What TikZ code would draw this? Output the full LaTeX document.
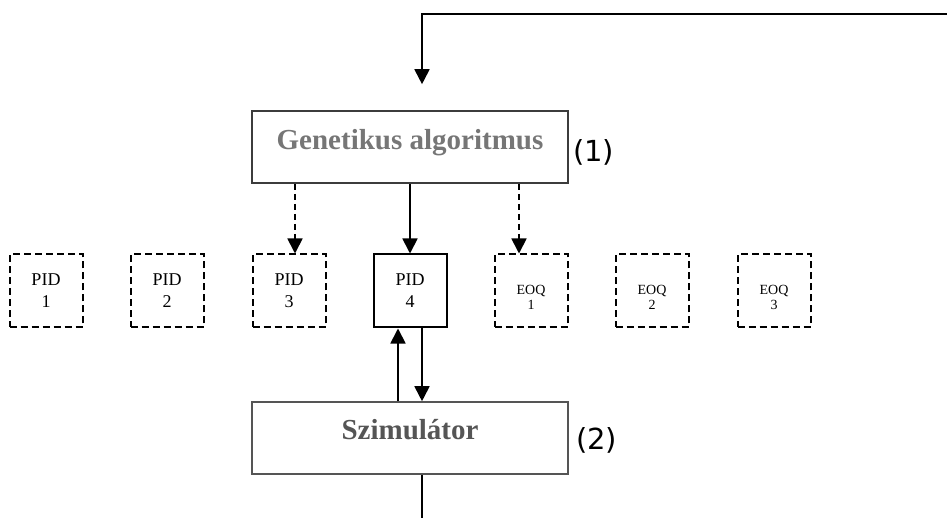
\documentclass[tikz,border=0pt]{standalone}
\usepackage{fontspec}
\setmainfont{Liberation Serif}
\newfontfamily\tagfont{DejaVu Sans}
\usetikzlibrary{arrows.meta, positioning}
\definecolor{boxGray}{RGB}{60,60,60}
\definecolor{titleGray}{RGB}{118,118,118}
\definecolor{simGray}{RGB}{85,85,85}

\begin{document}
\begin{tikzpicture}[x=1pt, y=-1pt,
  flow/.style={line width=1.8pt, -{Triangle[length=15pt, width=15pt]}},
  block/.style={draw=boxGray, line width=1.6pt, minimum width=316pt, minimum height=72pt,
    font=\fontsize{29}{34}\bfseries\selectfont},
  ctrl/.style={draw, line width=2pt, minimum width=73pt, minimum height=73pt,
    align=center, inner sep=0pt},
  idle/.style={ctrl, dash pattern=on 7pt off 4pt},
  pidtxt/.style={font=\fontsize{18}{22}\selectfont},
  eoqtxt/.style={font=\fontsize{14}{15}\selectfont},
  tag/.style={font=\tagfont\fontsize{29}{34}\selectfont, inner sep=0pt}]
  \useasboundingbox (0,0) rectangle (947,518);

  % optimiser and simulator
  \node[block, text=titleGray, text height=19pt, text depth=13pt] (gen) at (410,147) {Genetikus algoritmus};
  \node[block, draw=simGray, text=simGray, text height=19pt, text depth=17pt] (sim) at (410,438) {Szimulátor};
  \node[tag, right=4pt of gen, yshift=-5pt] (tag1) {(1)};
  \node[tag, right=7pt of sim, yshift=-2pt] (tag2) {(2)};

  % controllers, only PID 4 is active
  \foreach \i/\x in {1/46, 2/167, 3/289}
    \node[idle, pidtxt] (pid\i) at (\x,291) {PID\\\i};
  \node[ctrl, pidtxt] (pid4) at (410,291) {PID\\4};
  \foreach \i/\x in {1/531, 2/652, 3/774}
    \node[idle, eoqtxt] (eoq\i) at (\x,291) {\rule{0pt}{22pt}EOQ\\\i};

  % feedback loop
  \coordinate (fbin) at (947,14);
  \coordinate (fbout) at (422,518);
  \draw[flow] (fbin) -| ([xshift=12pt, yshift=26pt]gen.north);
  \draw[line width=1.8pt] ([xshift=12pt]sim.south) -- (fbout);

  % parameters down to the controllers
  \draw[flow, dash pattern=on 6pt off 4pt] ([xshift=-115pt]gen.south) -- ([xshift=6pt]pid3.north);
  \draw[flow] (gen.south) -- (pid4.north);
  \draw[flow, dash pattern=on 6pt off 4pt] ([xshift=109pt]gen.south) -- ([xshift=-12pt]eoq1.north);
  \draw[flow] ([xshift=-12pt]sim.north) -- ([xshift=-12pt]pid4.south);
  \draw[flow] ([xshift=12pt]pid4.south) -- ([xshift=12pt]sim.north);
\end{tikzpicture}
\end{document}
